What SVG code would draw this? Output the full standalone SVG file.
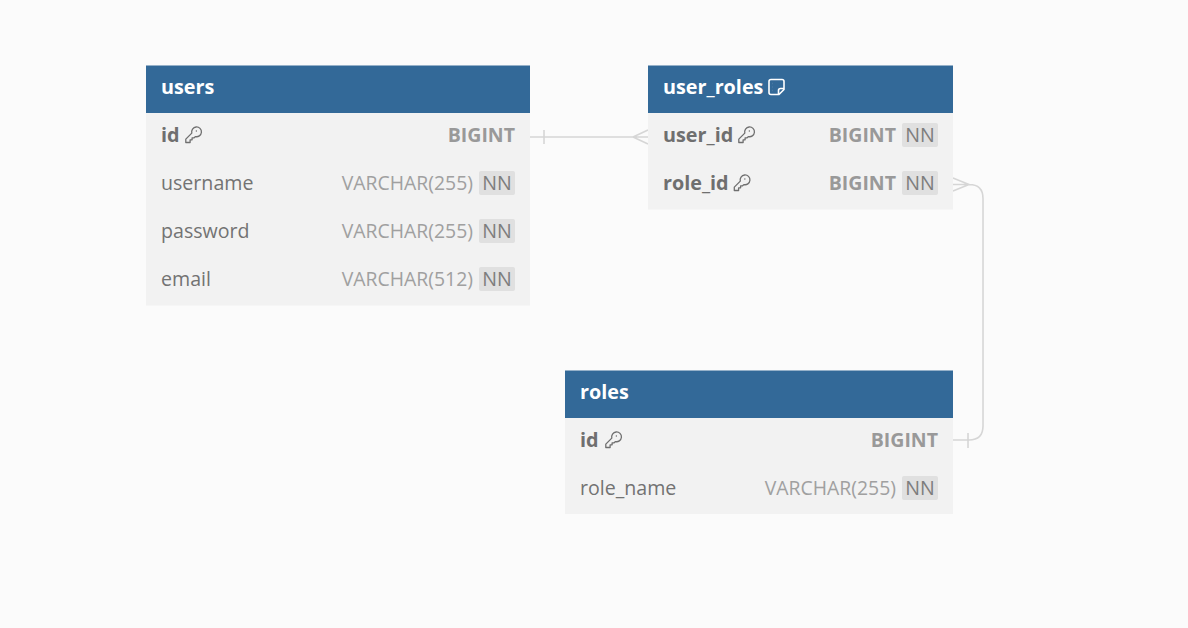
<svg xmlns="http://www.w3.org/2000/svg" width="1188" height="628" viewBox="0 0 1188 628">
<style>
text{font-family:"Open Sans","Noto Sans",sans-serif;font-size:20px}
.body{fill:#f2f2f2}
.head{fill:#336998}
.title{fill:#fff;font-weight:700;font-size:19.800px}
.pk{fill:#6f6f6f;font-weight:700;font-size:19.800px}
.col{fill:#737373;font-size:19.600px}
.type{fill:#a0a0a0;text-anchor:end;font-size:19.400px}
.typeb{fill:#999;font-weight:700;text-anchor:end;font-size:19.500px}
.nnb{fill:#e0e0e0}
.nn{fill:#7d7d7d;text-anchor:middle;font-size:19.600px}
.conn{fill:none;stroke:#d6d6d6;stroke-width:1.6}
.ic{fill:none;stroke:#6f6f6f;stroke-width:1.300;stroke-linecap:round;stroke-linejoin:round}
.icw{fill:none;stroke:#fff;stroke-width:1.600;stroke-linejoin:round}
</style>
<defs>
<g id="key"><path class="ic" d="M0.800 15.500v-3.400l6-6a4.900 4.900 0 1 1 3.500 3.500l-1.200 1.200h-2v2h-2v2.700zM11.300 4h.1"/></g>
</defs>
<rect width="1188" height="628" fill="#fbfbfb"/>
<g id="connectors">
<path class="conn" d="M530 137H648M544 130V144M648 130L633 137L648 144"/>
<path class="conn" d="M953 184.500H969Q983 184.500 983 198.500V426Q983 440 969 440H953M968 433V448M953 178L969 184.500L953 191"/>
</g>
<g id="users">
<rect class="body" x="146" y="113" width="384" height="192.500"/>
<rect class="head" x="146" y="65.500" width="384" height="47.500"/>
<text class="title" x="161" y="94">users</text>
<text class="pk" x="161" y="142">id</text><use href="#key" x="185" y="127"/>
<text class="typeb" x="515" y="142">BIGINT</text>
<text class="col" x="161" y="190">username</text>
<text class="type" x="473" y="190">VARCHAR(255)</text>
<rect class="nnb" x="479" y="171" width="36" height="24" rx="2"/><text class="nn" x="497" y="190">NN</text>
<text class="col" x="161" y="238">password</text>
<text class="type" x="473" y="238">VARCHAR(255)</text>
<rect class="nnb" x="479" y="219" width="36" height="24" rx="2"/><text class="nn" x="497" y="238">NN</text>
<text class="col" x="161" y="286">email</text>
<text class="type" x="473" y="286">VARCHAR(512)</text>
<rect class="nnb" x="479" y="267" width="36" height="24" rx="2"/><text class="nn" x="497" y="286">NN</text>
</g>
<g id="user_roles">
<rect class="body" x="648" y="113" width="305" height="96.500"/>
<rect class="head" x="648" y="65.500" width="305" height="47.500"/>
<text class="title" x="663" y="94">user_roles</text>
<path class="icw" d="M771 79.500q-2 0-2 2v11q0 2 2 2h8l5-5v-8q0-2-2-2zM784 88.500h-3.500q-2 0-2 2v4M772.500 83.500h.1M772.500 87h.1M772.500 90.500h.1"/>
<text class="pk" x="663" y="142">user_id</text><use href="#key" x="738" y="127"/>
<text class="typeb" x="896" y="142">BIGINT</text>
<rect class="nnb" x="902" y="123" width="36" height="24" rx="2"/><text class="nn" x="920" y="142">NN</text>
<text class="pk" x="663" y="190">role_id</text><use href="#key" x="733.500" y="175"/>
<text class="typeb" x="896" y="190">BIGINT</text>
<rect class="nnb" x="902" y="171" width="36" height="24" rx="2"/><text class="nn" x="920" y="190">NN</text>
</g>
<g id="roles">
<rect class="body" x="565" y="418" width="388" height="96"/>
<rect class="head" x="565" y="370.500" width="388" height="47.500"/>
<text class="title" x="580" y="399">roles</text>
<text class="pk" x="580" y="447">id</text><use href="#key" x="605" y="432"/>
<text class="typeb" x="938" y="447">BIGINT</text>
<text class="col" x="580" y="495">role_name</text>
<text class="type" x="896" y="495">VARCHAR(255)</text>
<rect class="nnb" x="902" y="476" width="36" height="24" rx="2"/><text class="nn" x="920" y="495">NN</text>
</g>
</svg>
